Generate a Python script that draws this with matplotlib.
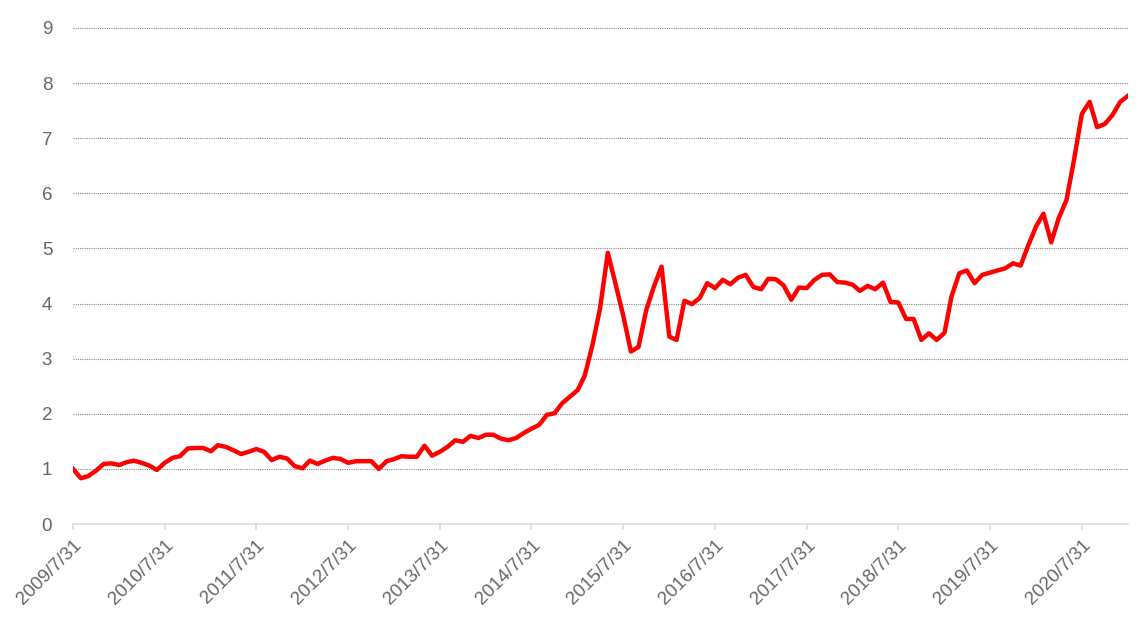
import pandas as pd
import matplotlib
matplotlib.use("Agg")
import matplotlib.pyplot as plt

plt.rcParams["font.family"] = ["Liberation Sans", "DejaVu Sans"]

# month-end values, 2009/7/31 .. 2021/2/28
start_date = "2009-07-31"
values = [
    1.00, 0.83, 0.87, 0.97, 1.09, 1.10, 1.07, 1.12, 1.15, 1.11, 1.06, 0.98,
    1.11, 1.20, 1.23, 1.37, 1.38, 1.38, 1.32, 1.43, 1.40, 1.34, 1.27, 1.31,
    1.36, 1.31, 1.16, 1.22, 1.19, 1.05, 1.01, 1.15, 1.09, 1.15, 1.20, 1.18,
    1.11, 1.14, 1.14, 1.14, 1.00, 1.14, 1.18, 1.23, 1.22, 1.22, 1.42, 1.24,
    1.31, 1.40, 1.52, 1.49, 1.60, 1.56, 1.62, 1.62, 1.55, 1.52, 1.56, 1.65,
    1.73, 1.80, 1.98, 2.01, 2.19, 2.31, 2.43, 2.69, 3.25, 3.91, 4.92, 4.37,
    3.79, 3.13, 3.21, 3.88, 4.30, 4.67, 3.40, 3.34, 4.05, 3.99, 4.10, 4.37,
    4.28, 4.43, 4.35, 4.47, 4.52, 4.30, 4.26, 4.45, 4.44, 4.33, 4.07, 4.29,
    4.28, 4.43, 4.52, 4.53, 4.39, 4.38, 4.34, 4.23, 4.32, 4.26, 4.38, 4.03,
    4.02, 3.72, 3.72, 3.34, 3.46, 3.34, 3.47, 4.13, 4.55, 4.60, 4.37, 4.52,
    4.56, 4.60, 4.64, 4.73, 4.69, 5.06, 5.40, 5.63, 5.11, 5.55, 5.88, 6.61,
    7.44, 7.66, 7.20, 7.26, 7.42, 7.66, 7.77,
]
dates = pd.date_range(start_date, periods=len(values), freq="ME")
tick_dates = pd.date_range("2009-07-31", "2020-07-31", freq="12ME")
tick_labels = [f"{d.year}/{d.month}/{d.day}" for d in tick_dates]
y_ticks = list(range(0, 10))

fig = plt.figure(figsize=(11.43, 6.18), dpi=100)
ax = fig.add_axes([0.0639, 0.1521, 0.9230, 0.8026])

ax.plot(dates, values, color="#ff0000", linewidth=3.2, solid_joinstyle="round", zorder=3)

ax.set_xlim(dates[0], dates[-1])
ax.set_ylim(0, 9)
ax.set_yticks(y_ticks)
ax.set_xticks(tick_dates)
ax.set_xticklabels(tick_labels, rotation=45, ha="right", rotation_mode="anchor")

for y in y_ticks[1:]:
    ax.axhline(y, color="#8a8a8a", linestyle=(0, (1, 1)), linewidth=0.8, zorder=1)

for s in ["top", "right", "left"]:
    ax.spines[s].set_visible(False)
ax.spines["bottom"].set_color("#dddddd")
ax.spines["bottom"].set_linewidth(1.2)

ax.tick_params(axis="y", length=0, pad=15, labelsize=13.5, labelcolor="#666666")
ax.tick_params(axis="x", length=4, width=1.2, color="#dddddd", pad=5,
               labelsize=13.5, labelcolor="#666666")

fig.savefig("out.png", dpi=100)
